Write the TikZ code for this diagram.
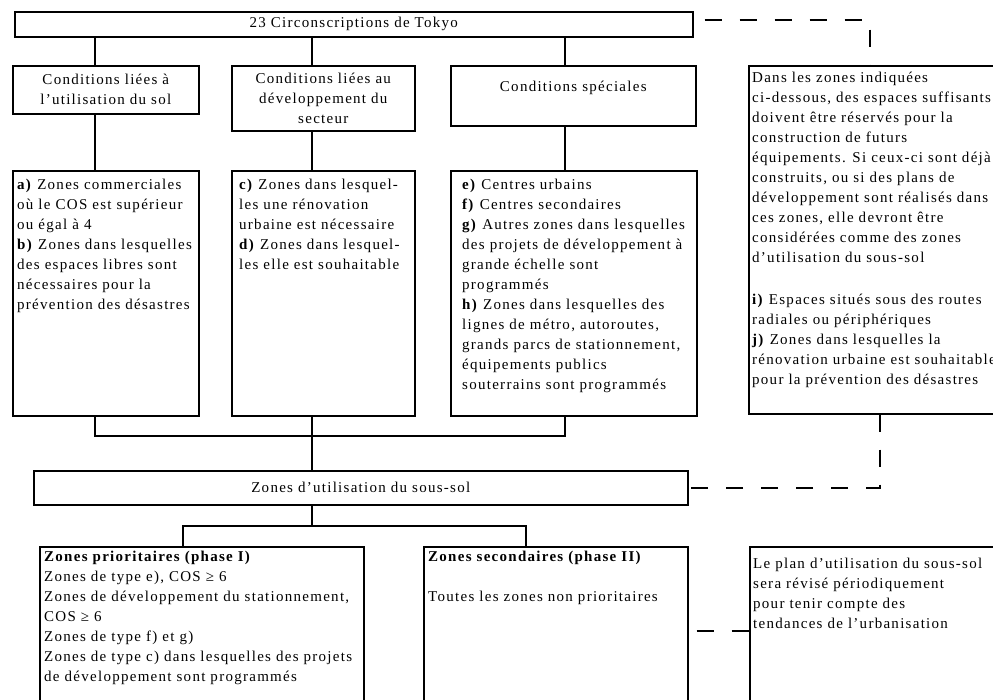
\documentclass[tikz,border=0pt]{standalone}
\usepackage{fontspec}
\setmainfont{Liberation Serif}[LetterSpace=8.5]
\begin{document}
\begin{tikzpicture}[x=1pt,y=1pt,
  every node/.style={font=\fontsize{15}{20}\selectfont},
  box/.style={draw, line width=1.6pt, inner sep=0pt, anchor=north west, align=center},
  txt/.style={inner sep=0pt, anchor=north west, align=left},
  link/.style={line width=1.6pt},
  dashline/.style={line width=1.6pt, dash pattern=on 17pt off 18pt}]
\useasboundingbox (0,0) rectangle (993,-699);
\clip (0,0) rectangle (993,-699);

% upper level
\node[box, minimum width=678, minimum height=25] (tokyo) at (14,-11) {23 Circonscriptions de Tokyo};
\node[box, minimum width=186, minimum height=48] (land) at (12,-65) {Conditions liées à\\l'utilisation du sol};
\node[box, minimum width=183, minimum height=65] (dev) at (231,-65) {Conditions liées au\\développement du\\secteur};
\node[box, minimum width=245, minimum height=60, text depth=19pt] (spec) at (450,-65) {Conditions spéciales};

% conditions
\node[box, minimum width=186, minimum height=245] (ab) at (12,-170) {};
\node[txt] (abtext) at ([shift={(5,-5)}]ab.north west) {\strut\textbf{a)} Zones commerciales\\où le COS est supérieur\\ou égal à 4\\\textbf{b)} Zones dans lesquelles\\des espaces libres sont\\nécessaires pour la\\prévention des désastres};
\node[box, minimum width=183, minimum height=245] (cd) at (231,-170) {};
\node[txt] (cdtext) at ([shift={(8,-5)}]cd.north west) {\strut\textbf{c)} Zones dans lesquel-\\les une rénovation\\urbaine est nécessaire\\\textbf{d)} Zones dans lesquel-\\les elle est souhaitable};
\node[box, minimum width=246, minimum height=245] (eh) at (450,-170) {};
\node[txt] (ehtext) at ([shift={(12,-5)}]eh.north west) {\strut\textbf{e)} Centres urbains\\\textbf{f)} Centres secondaires\\\textbf{g)} Autres zones dans lesquelles\\des projets de développement à\\grande échelle sont\\programmés\\\textbf{h)} Zones dans lesquelles des\\lignes de métro, autoroutes,\\grands parcs de stationnement,\\équipements publics\\souterrains sont programmés};
\node[box, minimum width=300, minimum height=348] (extra) at (748,-65) {};
\node[txt] (extratext) at ([shift={(4,-3)}]extra.north west) {\strut Dans les zones indiquées\\ci-dessous, des espaces suffisants\\doivent être réservés pour la\\construction de futurs\\équipements. Si ceux-ci sont déjà\\construits, ou si des plans de\\développement sont réalisés dans\\ces zones, elle devront être\\considérées comme des zones\\d'utilisation du sous-sol\\[22pt]\textbf{i)} Espaces situés sous des routes\\radiales ou périphériques\\\textbf{j)} Zones dans lesquelles la\\rénovation urbaine est souhaitable\\pour la prévention des désastres};

% lower level
\node[box, minimum width=654, minimum height=34] (zu) at (33,-470) {Zones d'utilisation du sous-sol};
\node[box, minimum width=324, minimum height=200] (prio) at (39,-546) {};
\node[txt] (priotext) at ([shift={(5,-1)}]prio.north west) {\strut\textbf{Zones prioritaires (phase I)}\\Zones de type e), COS ≥ 6\\Zones de développement du stationnement,\\COS ≥ 6\\Zones de type f) et g)\\Zones de type c) dans lesquelles des projets\\de développement sont programmés};
\node[box, minimum width=264, minimum height=200] (sec) at (423,-546) {};
\node[txt] (sectext) at ([shift={(5,-1)}]sec.north west) {\strut\textbf{Zones secondaires (phase II)}\\[20pt]Toutes les zones non prioritaires};
\node[box, minimum width=300, minimum height=200] (plan) at (749,-546) {};
\node[txt] (plantext) at ([shift={(4,-8)}]plan.north west) {\strut Le plan d'utilisation du sous-sol\\sera révisé périodiquement\\pour tenir compte des\\tendances de l'urbanisation};

% connectors
\coordinate (x1) at (95,0);
\coordinate (x2) at (312,0);
\coordinate (x3) at (565,0);
\coordinate (x4) at (183,0);
\coordinate (x5) at (526,0);
\coordinate (j1) at (312,-436);
\coordinate (j2) at (312,-526);
\draw[link] (tokyo.south -| x1) -- (land.north -| x1);
\draw[link] (tokyo.south -| x2) -- (dev.north -| x2);
\draw[link] (tokyo.south -| x3) -- (spec.north -| x3);
\draw[link] (land.south -| x1) -- (ab.north -| x1);
\draw[link] (dev.south -| x2) -- (cd.north -| x2);
\draw[link] (spec.south -| x3) -- (eh.north -| x3);
\draw[link] (ab.south -| x1) |- (j1) -| (eh.south -| x3);
\draw[link] (cd.south -| x2) -- (zu.north -| x2);
\draw[link] (zu.south -| x2) -- (j2);
\draw[link] (prio.north -| x4) |- (j2) -| (sec.north -| x5);

% dashed links
\coordinate (d1) at (870,-20);
\coordinate (d2) at (880,0);
\coordinate (d3) at (0,-631);
\draw[dashline, dash phase=24pt] (tokyo.east |- d1) -| (extra.north -| d1);
\draw[dashline] (extra.south -| d2) |- (zu.east);
\draw[dashline, dash phase=27pt] (sec.east |- d3) -- (plan.west |- d3);
\end{tikzpicture}
\end{document}
